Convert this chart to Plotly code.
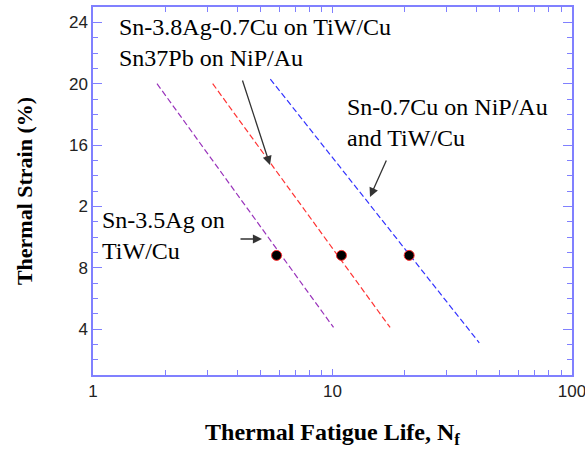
import plotly.graph_objects as go

# Data
purple_x = [1.85, 10.1]
purple_y = [20.0, 4.1]
red_x = [3.16, 17.4]
red_y = [20.0, 4.1]
blue_x = [5.5, 41.0]
blue_y = [20.3, 3.1]
point_x = [5.84, 10.9, 20.9]
point_y = [8.8, 8.8, 8.8]

x_tickvals = [1, 10, 100]
x_ticktext = ["1", "10", "100"]
y_tickvals = [4, 8, 12, 16, 20, 24]
y_ticktext = ["4", "8", "2", "16", "20", "24"]

AX = "#8080ff"
dash = "6px,3px"

fig = go.Figure()
fig.add_trace(go.Scatter(x=purple_x, y=purple_y, mode="lines",
                         line=dict(color="#9933bb", width=1.2, dash=dash), showlegend=False))
fig.add_trace(go.Scatter(x=red_x, y=red_y, mode="lines",
                         line=dict(color="#ff3333", width=1.2, dash=dash), showlegend=False))
fig.add_trace(go.Scatter(x=blue_x, y=blue_y, mode="lines",
                         line=dict(color="#3333ff", width=1.2, dash=dash), showlegend=False))
fig.add_trace(go.Scatter(x=point_x, y=point_y, mode="markers",
                         marker=dict(color="black", size=10, line=dict(color="#ff3030", width=1)),
                         showlegend=False))

serif = "Liberation Serif"

L, R, T, B = 93, 13, 7, 74
W, H = 585, 449
pw, ph = W - L - R, H - T - B

def px(xp):
    return (xp - L) / pw

def py(yp):
    return (H - B - yp) / ph

texts = [
    ("Sn-3.8Ag-0.7Cu on TiW/Cu<br>Sn37Pb on NiP/Au", 117, 42),
    ("Sn-0.7Cu on NiP/Au<br>and TiW/Cu", 345, 122),
    ("Sn-3.5Ag on<br>TiW/Cu", 100, 236),
]
annotations = []
for t, x0, y0 in texts:
    annotations.append(dict(text=t, x=px(x0), y=py(y0), xref="paper", yref="paper",
                            xanchor="left", yanchor="middle", align="left", showarrow=False,
                            font=dict(family=serif, size=24, color="black")))

arrows = [((270, 165), (242, 79)), ((370, 197), (387, 159)), ((262, 239), (239, 239))]
for tip, tail in arrows:
    annotations.append(dict(x=px(tip[0]), y=py(tip[1]), xref="paper", yref="paper",
                            ax=tail[0] - tip[0], ay=tail[1] - tip[1], text="",
                            showarrow=True, arrowhead=2, arrowsize=1.4, arrowwidth=1.3,
                            arrowcolor="#333333"))

fig.update_layout(
    width=W, height=H,
    margin=dict(l=L, r=R, t=T, b=B),
    plot_bgcolor="white", paper_bgcolor="white",
    annotations=annotations,
    xaxis=dict(type="log", range=[0, 2], tickvals=x_tickvals, ticktext=x_ticktext,
               automargin=False,
               showgrid=False, zeroline=False, showline=True, linecolor=AX, linewidth=1.5,
               mirror="ticks", ticks="inside", ticklen=6, tickcolor=AX, tickwidth=1,
               ticklabeloverflow="allow",
               minor=dict(ticks="inside", ticklen=5, tickcolor=AX, dtick="D1", showgrid=False),
               tickfont=dict(family="Liberation Sans, Arial, sans-serif", size=17, color="#222"),
               title=dict(text="<b>Thermal Fatigue Life, N<sub>f</sub></b>",
                          font=dict(family=serif, size=24, color="black"), standoff=24)),
    yaxis=dict(range=[1, 25], tickvals=y_tickvals, ticktext=y_ticktext,
               automargin=False,
               showgrid=False, zeroline=False, showline=True, linecolor=AX, linewidth=1.5,
               mirror="ticks", ticks="inside", ticklen=9, tickcolor=AX, tickwidth=1,
               minor=dict(ticks="inside", ticklen=5, tickcolor=AX, tick0=0, dtick=1, showgrid=False),
               tickfont=dict(family="Liberation Sans, Arial, sans-serif", size=17, color="#222"),
               title=dict(text="<b>Thermal Strain (%)</b>",
                          font=dict(family=serif, size=22, color="black"), standoff=30)),
)

fig.write_html("out.html")
